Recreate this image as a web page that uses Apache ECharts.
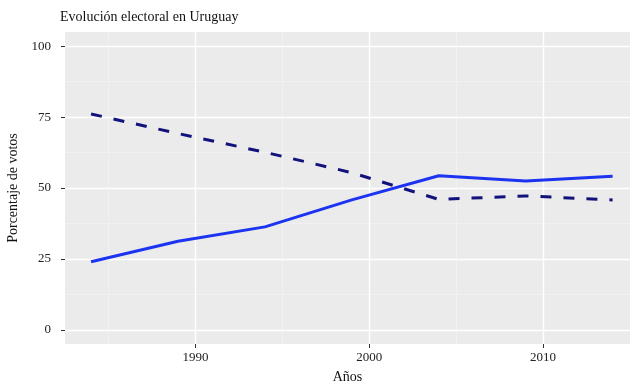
<!DOCTYPE html>
<html>
<head>
<meta charset="utf-8">
<script src="https://cdn.jsdelivr.net/npm/echarts@6/dist/echarts.min.js"></script>
<style>html,body{margin:0;padding:0;background:#fff}#c{width:633px;height:385px}</style>
</head>
<body>
<div id="c"></div>
<script>
const years = [1984, 1989, 1994, 1999, 2004, 2009, 2014];
const frenteAmplio = [24.0, 31.2, 36.3, 45.8, 54.3, 52.5, 54.1];
const partidosTradicionales = [76.1, 69.2, 62.6, 55.4, 46.0, 47.2, 45.8];
const xMajor = [1990, 2000, 2010];
const xMinor = [1985, 1995, 2005];
const yMajor = [0, 25, 50, 75, 100];
const yMinor = [12.5, 37.5, 62.5, 87.5];
const titleText = 'Evolución electoral en Uruguay';
const xName = 'Años';
const yName = 'Porcentaje de votos';

const FONT = 'Liberation Serif';
const chart = echarts.init(document.getElementById('c'), null, {renderer: 'canvas'});
const pair = (ys) => years.map((y, i) => [y, ys[i]]);

const grid = {left: 65, right: 3, top: 32, height: 312, show: true, backgroundColor: '#EBEBEB', borderWidth: 0, containLabel: false, outerBoundsMode: 'none'};
const xBase = {type: 'value', min: 1982.5, max: 2015, gridIndex: 0};
const yBase = {type: 'value', min: -5, max: 105, gridIndex: 0};

chart.setOption({
  animation: false,
  backgroundColor: '#fff',
  title: {text: titleText, left: 55, top: 5, textStyle: {fontFamily: FONT, fontSize: 14, fontWeight: 'normal', color: '#111'}},
  grid: grid,
  xAxis: [
    Object.assign({}, xBase, {
      name: xName, nameLocation: 'middle', nameGap: 26,
      nameTextStyle: {fontFamily: FONT, fontSize: 14, color: '#111'},
      axisLine: {show: false, onZero: false},
      axisTick: {show: true, length: 4, customValues: xMajor, lineStyle: {color: '#333', width: 1}},
      axisLabel: {customValues: xMajor, formatter: (v) => String(v), fontFamily: FONT, fontSize: 13, color: '#222', margin: 7},
      splitLine: {show: true, lineStyle: {color: '#fff', width: 1.4}}
    }),
    Object.assign({}, xBase, {
      axisLine: {show: false, onZero: false}, axisLabel: {show: false},
      axisTick: {show: false, customValues: xMinor},
      splitLine: {show: true, lineStyle: {color: '#F5F5F5', width: 0.6}}
    })
  ],
  yAxis: [
    Object.assign({}, yBase, {
      name: yName, nameLocation: 'middle', nameGap: 44, nameRotate: 90,
      nameTextStyle: {fontFamily: FONT, fontSize: 14, color: '#111'},
      axisLine: {show: false, onZero: false},
      axisTick: {show: true, length: 4, customValues: yMajor, lineStyle: {color: '#333', width: 1}},
      axisLabel: {customValues: yMajor, fontFamily: FONT, fontSize: 13, color: '#222', margin: 14},
      splitLine: {show: true, lineStyle: {color: '#fff', width: 1.4}}
    }),
    Object.assign({}, yBase, {
      axisLine: {show: false, onZero: false}, axisLabel: {show: false},
      axisTick: {show: false, customValues: yMinor},
      splitLine: {show: true, lineStyle: {color: '#F5F5F5', width: 0.6}}
    })
  ],
  series: [
    {type: 'line', name: 'Frente Amplio', data: pair(frenteAmplio), showSymbol: false, symbol: 'none',
     lineStyle: {color: '#1c33f2', width: 3}, z: 3},
    {type: 'line', name: 'Partidos tradicionales', data: pair(partidosTradicionales), showSymbol: false, symbol: 'none',
     lineStyle: {color: '#12127d', width: 3, type: [11, 12]}, z: 3}
  ]
});
</script>
</body>
</html>
